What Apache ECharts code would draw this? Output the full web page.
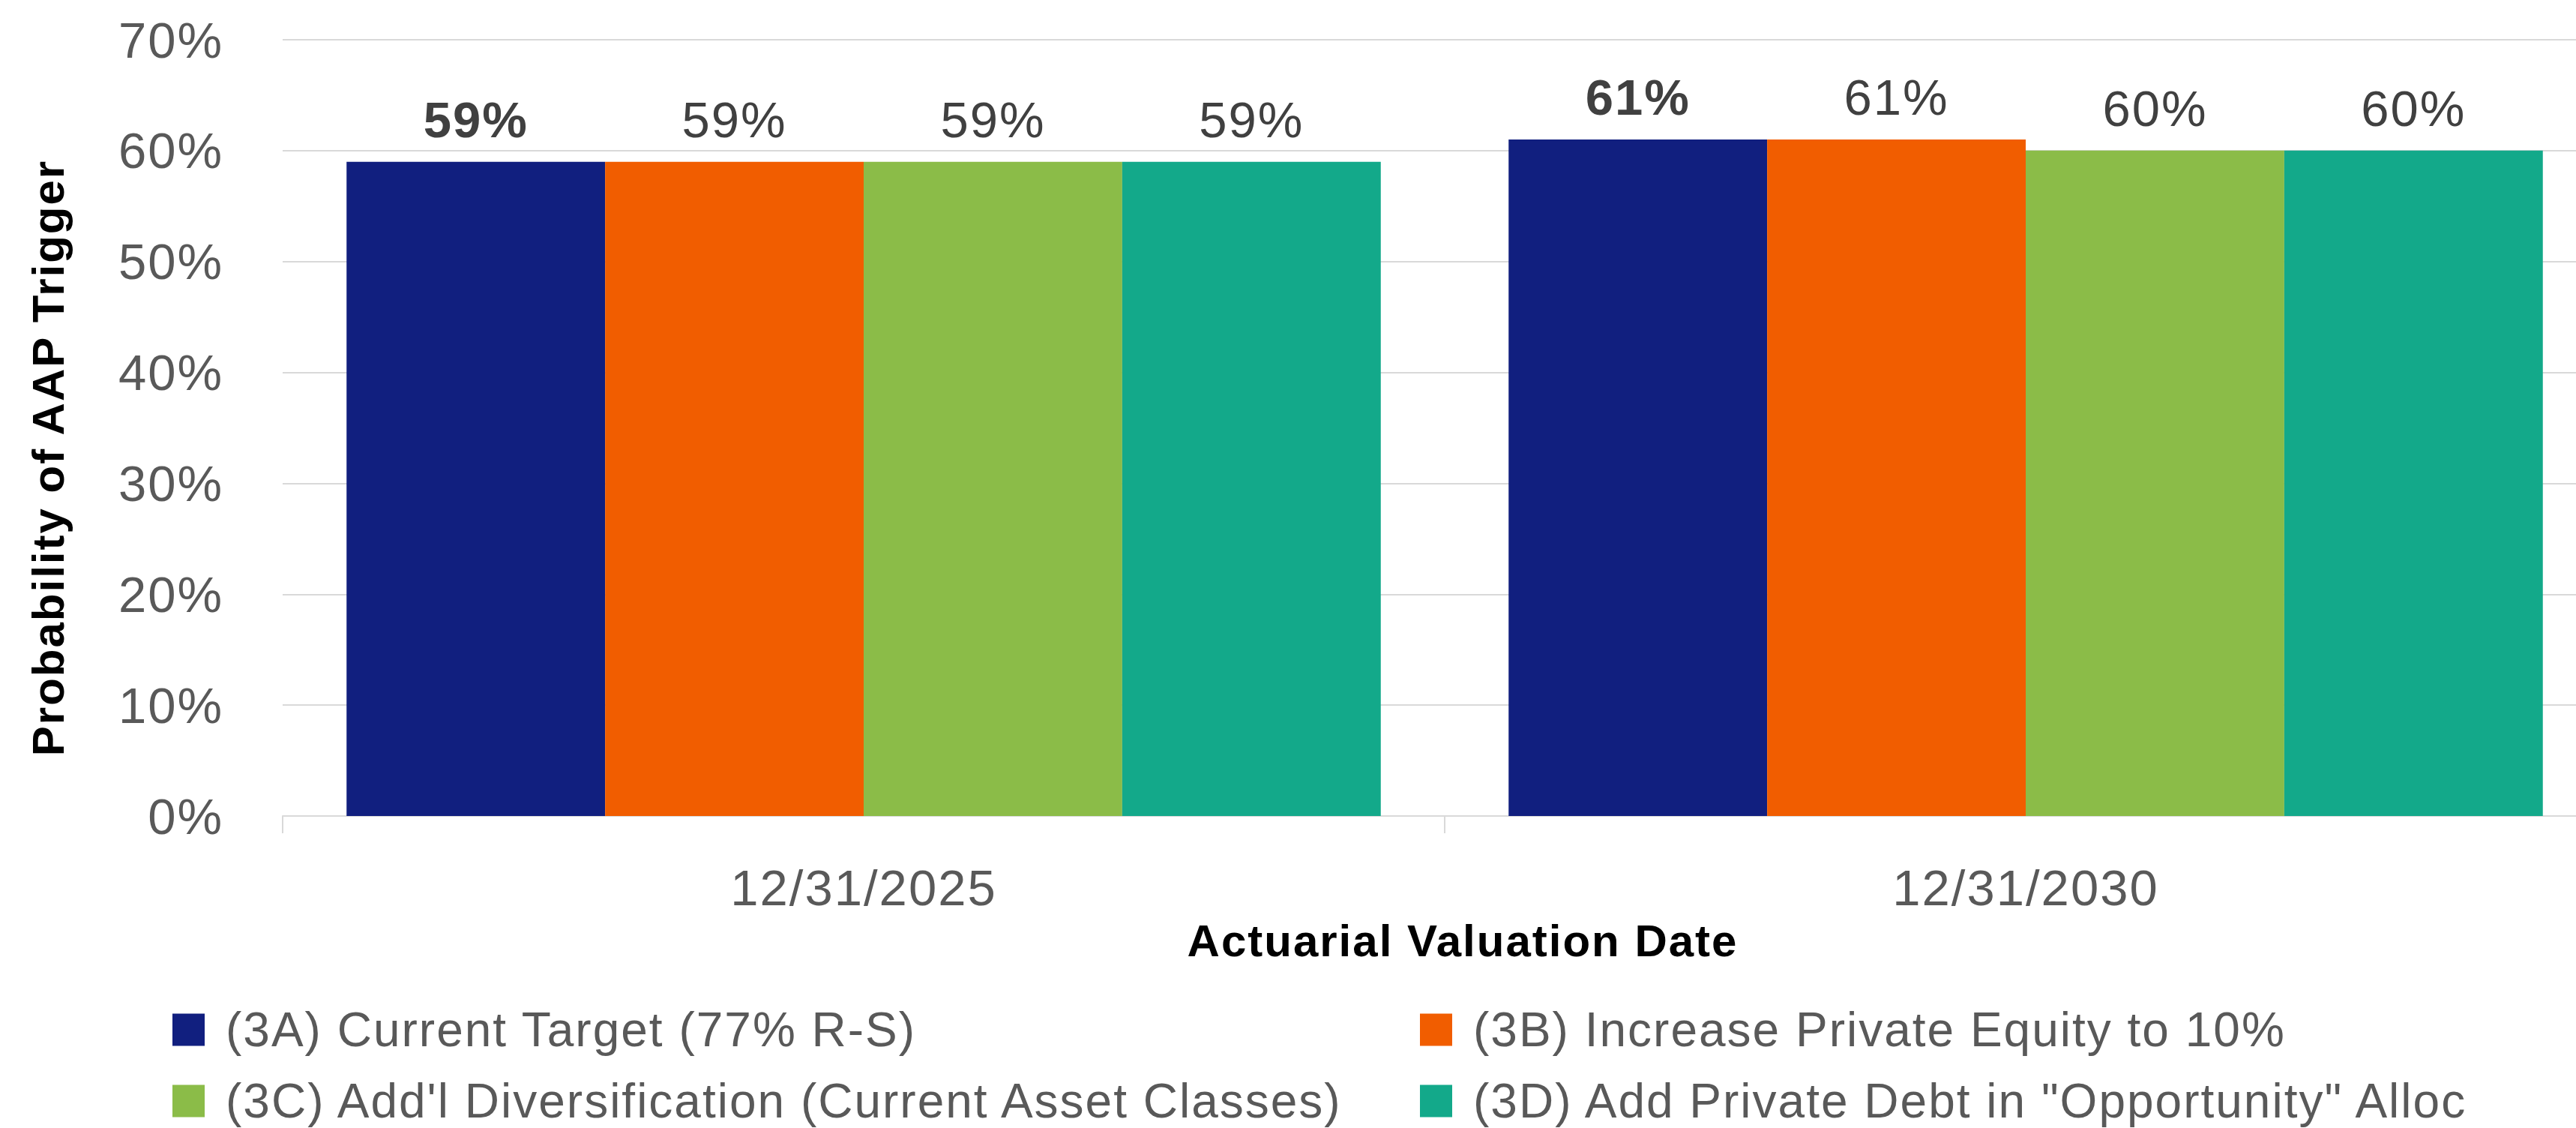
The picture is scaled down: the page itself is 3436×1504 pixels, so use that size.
<!DOCTYPE html>
<html>
<head>
<meta charset="utf-8">
<script src="https://cdn.jsdelivr.net/npm/echarts@6/dist/echarts.min.js"></script>
<style>
html,body{margin:0;padding:0;background:#fff;}
#chart{width:3436px;height:1504px;letter-spacing:2px;}
</style>
</head>
<body>
<div id="chart"></div>
<script>
const categories = ['12/31/2025', '12/31/2030'];
const seriesNames = [
  '(3A) Current Target (77% R-S)',
  '(3B) Increase Private Equity to 10%',
  "(3C) Add'l Diversification (Current Asset Classes)",
  '(3D) Add Private Debt in "Opportunity" Alloc'
];
const values3A = [59, 61];
const values3B = [59, 61];
const values3C = [59, 60];
const values3D = [59, 60];
const seriesColors = ['#111f7f', '#f15d00', '#8bbc48', '#13a98a'];
const yTicks = { min: 0, max: 70, interval: 10 };

const FONT = "'Liberation Sans', Arial, sans-serif";
const allValues = [values3A, values3B, values3C, values3D];

const chart = echarts.init(document.getElementById('chart'), null, { renderer: 'svg' });
const series = seriesNames.map((name, i) => ({
  name: name,
  type: 'bar',
  data: allValues[i],
  barGap: '0%',
  barCategoryGap: '11%',
  itemStyle: { color: seriesColors[i] },
  label: {
    show: true,
    position: 'top',
    distance: 23,
    formatter: '{c}%',
    fontFamily: FONT,
    fontSize: 67,
    fontWeight: i === 0 ? 'bold' : 'normal',
    color: '#404040'
  }
}));

const legendCommon = {
  orient: 'vertical', top: 1341, height: 170, padding: 0,
  itemWidth: 43, itemHeight: 43, itemGap: 31, icon: 'rect',
  textStyle: { fontFamily: FONT, fontSize: 64, color: '#595959', padding: [0, 0, 0, 23] }
};

chart.setOption({
  animation: false,
  backgroundColor: '#ffffff',
  textStyle: { fontFamily: FONT },
  grid: { left: 377, right: -41, top: 53, bottom: 416, containLabel: false, outerBoundsMode: 'none' },
  xAxis: {
    type: 'category',
    data: categories,
    name: 'Actuarial Valuation Date',
    nameLocation: 'middle',
    nameGap: 136,
    nameTextStyle: { fontFamily: FONT, fontSize: 60, fontWeight: 'bold', color: '#000', padding: [0, 0, 0, 48] },
    axisLine: { lineStyle: { color: '#d9d9d9', width: 2 } },
    axisTick: { show: true, length: 23, lineStyle: { color: '#d9d9d9', width: 2 } },
    axisLabel: { margin: 62, fontFamily: FONT, fontSize: 67, color: '#595959' }
  },
  yAxis: {
    type: 'value',
    min: yTicks.min, max: yTicks.max, interval: yTicks.interval,
    name: 'Probability of AAP Trigger',
    nameLocation: 'middle',
    nameRotate: 90,
    nameGap: 283,
    nameTextStyle: { fontFamily: FONT, fontSize: 60, fontWeight: 'bold', color: '#000', padding: [0, 80, 0, 0] },
    axisLine: { show: false },
    axisTick: { show: false },
    splitLine: { lineStyle: { color: '#d9d9d9', width: 2 } },
    axisLabel: { margin: 79, fontFamily: FONT, fontSize: 67, color: '#595959', formatter: '{value}%' }
  },
  legend: [
    Object.assign({ data: [seriesNames[0], seriesNames[2]], left: 230 }, legendCommon),
    Object.assign({ data: [seriesNames[1], seriesNames[3]], left: 1894 }, legendCommon)
  ],
  series: series
});
</script>
</body>
</html>
